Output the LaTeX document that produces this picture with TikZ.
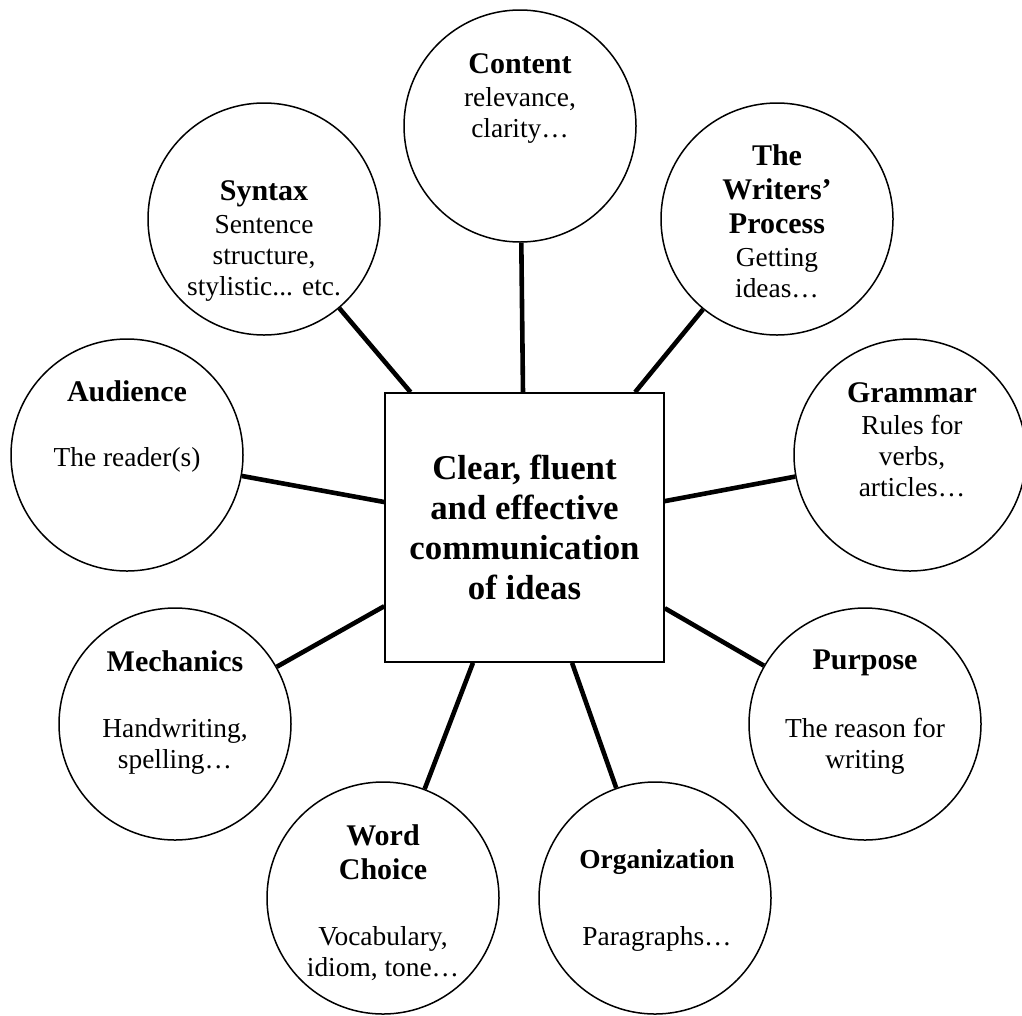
\documentclass[tikz,border=0pt]{standalone}
\usepackage{fontspec}
\setmainfont{Liberation Serif}
\newcommand\hd[1]{{\fontsize{30}{31}\selectfont\bfseries #1}}
\begin{document}
\begin{tikzpicture}[x=1pt,y=-1pt,
  bubble/.style={circle,draw,line width=1.5pt,minimum size=232pt,inner sep=0pt},
  hub/.style={rectangle,draw,line width=1.6pt,minimum width=279pt,minimum height=269pt,inner sep=0pt,align=center,font=\fontsize{34.8}{40}\selectfont\bfseries},
  link/.style={line width=4.6pt},
  btext/.style={anchor=north,inner sep=0pt,align=center,font=\fontsize{27.4}{31}\selectfont}]
\useasboundingbox (0,0) rectangle (1022,1015);

\node[hub] (hub) at (524.5,527.5) {Clear, fluent\\and effective\\communication\\of ideas};

\node[bubble] (content) at (520,126) {};
\node[bubble] (syntax) at (264,219) {};
\node[bubble] (writers) at (777,219) {};
\node[bubble] (audience) at (127,455) {};
\node[bubble] (grammar) at (910,455) {};
\node[bubble] (mechanics) at (175,724) {};
\node[bubble] (purpose) at (865,724) {};
\node[bubble] (wordchoice) at (383,898) {};
\node[bubble] (organization) at (655,898) {};

\node[btext] (content-t) at (520,51.3) {\hd{\strut Content}\\[2pt]relevance,\\clarity…};
\node[btext] (syntax-t) at (264,178.3) {\hd{\strut Syntax}\\[2pt]Sentence\\structure,\\stylistic... etc.};
\node[btext] (writers-t) at (777,143.3) {\hd{\strut The}\\[3pt]\hd{Writers’}\\[3pt]\hd{Process}\\[2pt]Getting\\ideas…};
\node[btext] (audience-t) at (127,379.3) {\hd{\strut Audience}\\[34pt]The reader(s)};
\node[btext] (grammar-t) at (912,380.3) {\hd{\strut Grammar}\\[1pt]Rules for\\verbs,\\articles…};
\node[btext] (mechanics-t) at (175,649.3) {\hd{\strut Mechanics}\\[35pt]Handwriting,\\spelling…};
\node[btext] (purpose-t) at (865,647.3) {\hd{\strut Purpose}\\[37pt]The reason for\\writing};
\node[btext] (wordchoice-t) at (383,823.3) {\hd{\strut Word}\\[3pt]\hd{Choice}\\[35pt]Vocabulary,\\idiom, tone…};
\node[btext] (organization-t) at (657,846.3) {{\bfseries\strut Organization}\\[46pt]Paragraphs…};

\foreach \n in {content,syntax,writers,audience,grammar,mechanics,purpose,wordchoice,organization}
  \draw[link] (hub) -- (\n);
\end{tikzpicture}
\end{document}
